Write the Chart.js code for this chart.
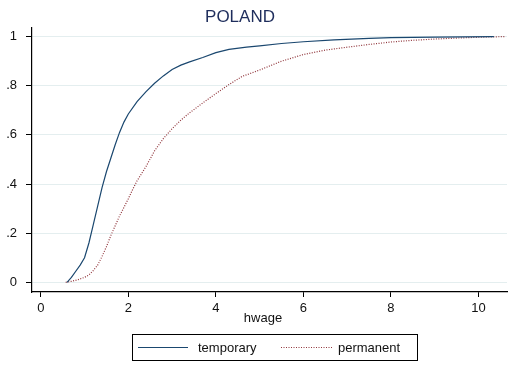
<!DOCTYPE html>
<html>
<head>
<meta charset="utf-8">
<script src="https://cdn.jsdelivr.net/npm/chart.js@4/dist/chart.umd.min.js"></script>
<style>
  body { margin: 0; background: #fff; }
  #wrap { width: 509px; height: 365px; }
</style>
</head>
<body>
<div id="wrap"><canvas id="graficaCdf" width="509" height="365"></canvas></div>
<script>
// valores (funcion de distribucion acumulada de hwage)
const titulo = "POLAND";
const etiquetaX = "hwage";
const ticksX = [0, 2, 4, 6, 8, 10];
const ticksY = [0, 0.2, 0.4, 0.6, 0.8, 1];

const temporaryX = [0.60, 0.70, 0.80, 0.90, 1.00, 1.10, 1.20, 1.30, 1.40, 1.50, 1.60, 1.70, 1.80, 1.90, 2.00,
    2.20, 2.40, 2.60, 2.80, 3.00, 3.20, 3.40, 3.70, 4.00, 4.30, 4.70, 5.00, 5.50, 6.00, 6.70, 7.50, 8.00, 9.00, 10.35];
const temporaryY = [0, 0.02, 0.045, 0.07, 0.10, 0.16, 0.235, 0.31, 0.385, 0.45, 0.505, 0.56, 0.61, 0.652, 0.685,
    0.735, 0.775, 0.81, 0.84, 0.866, 0.884, 0.897, 0.915, 0.935, 0.948, 0.957, 0.962, 0.972, 0.979, 0.987, 0.993, 0.996, 0.998, 1.0];

const permanentX = [0.57, 0.70, 0.84, 1.00, 1.10, 1.20, 1.30, 1.40, 1.50, 1.60, 1.70, 1.80, 1.90, 2.00, 2.10, 2.20,
    2.40, 2.60, 2.80, 3.00, 3.20, 3.40, 3.70, 4.00, 4.30, 4.60, 5.00, 5.50, 6.00, 6.50, 7.00, 7.50, 8.00, 8.50, 9.00, 9.50, 10.10, 10.60];
const permanentY = [0, 0.004, 0.01, 0.02, 0.03, 0.048, 0.07, 0.105, 0.145, 0.19, 0.23, 0.27, 0.305, 0.34, 0.378, 0.413,
    0.47, 0.535, 0.585, 0.625, 0.66, 0.69, 0.73, 0.768, 0.805, 0.838, 0.864, 0.90, 0.927, 0.945, 0.957, 0.968, 0.978, 0.985, 0.99, 0.994, 0.998, 1.0];

const FUENTE = "'Liberation Sans', Arial, sans-serif";

function aPuntos(xs, ys) {
    return xs.map((x, i) => ({ x: x, y: ys[i] }));
}

function formatoY(v) {
    if (v === 0) return "0";
    if (v === 1) return "1";
    return String(Math.round(v * 10) / 10).replace(/^0/, "");
}

// titulo, etiqueta del eje x y leyenda con marco, al estilo Stata
const decoracion = {
    id: "decoracion",
    afterDraw(chart) {
        const ctx = chart.ctx;
        ctx.save();
        ctx.fillStyle = "#1e2d5c";
        ctx.font = "17px " + FUENTE;
        ctx.textAlign = "center";
        ctx.textBaseline = "middle";
        ctx.fillText(titulo, 240, 17);

        ctx.fillStyle = "#111";
        ctx.font = "13px " + FUENTE;
        ctx.fillText(etiquetaX, 263, 318);

        // leyenda
        ctx.strokeStyle = "#000";
        ctx.lineWidth = 1;
        ctx.strokeRect(132.5, 334.5, 285, 26);
        const posiciones = [[138, 188, 198], [281, 332, 338]];
        chart.data.datasets.forEach((ds, i) => {
            const p = posiciones[i];
            ctx.beginPath();
            ctx.strokeStyle = ds.borderColor;
            ctx.lineWidth = ds.borderWidth;
            ctx.setLineDash(ds.borderDash || []);
            ctx.moveTo(p[0], 347.5);
            ctx.lineTo(p[1], 347.5);
            ctx.stroke();
            ctx.setLineDash([]);
            ctx.fillStyle = "#111";
            ctx.textAlign = "left";
            ctx.fillText(ds.label, p[2], 348);
        });
        ctx.restore();
    }
};

const ctx = document.getElementById("graficaCdf").getContext("2d");

new Chart(ctx, {
    type: "scatter",
    data: {
        datasets: [
            {
                label: "temporary",
                data: aPuntos(temporaryX, temporaryY),
                showLine: true,
                borderColor: "#1a476f",
                borderWidth: 1.2,
                pointRadius: 0,
                tension: 0,
            },
            {
                label: "permanent",
                data: aPuntos(permanentX, permanentY),
                showLine: true,
                borderColor: "#90353b",
                borderWidth: 1.2,
                borderDash: [1, 1.5],
                pointRadius: 0,
                tension: 0,
            },
        ],
    },
    options: {
        responsive: false,
        animation: false,
        layout: { padding: { left: 0, right: 2, top: 28, bottom: 0 } },
        plugins: {
            legend: { display: false },
            title: { display: false },
            tooltip: { enabled: false },
        },
        scales: {
            x: {
                type: "linear",
                min: -0.2,
                max: 10.65,
                afterBuildTicks: (s) => { s.ticks = ticksX.map(v => ({ value: v })); },
                afterFit: (s) => { s.height = 73; },
                grid: { drawOnChartArea: false, tickColor: "#000", tickLength: 5 },
                border: { display: true, color: "#000", width: 1.2 },
                ticks: { color: "#111", font: { family: FUENTE, size: 13 }, padding: 4, maxRotation: 0 },
            },
            y: {
                type: "linear",
                min: -0.0395,
                max: 1.035,
                afterBuildTicks: (s) => { s.ticks = ticksY.map(v => ({ value: v })); },
                afterFit: (s) => { s.width = 32; },
                grid: { color: "#e4eeef", tickColor: "#000", tickLength: 6 },
                border: { display: true, color: "#000", width: 1.2 },
                ticks: { color: "#111", font: { family: FUENTE, size: 13 }, padding: 9, callback: formatoY },
            },
        },
    },
    plugins: [decoracion],
});
</script>
</body>
</html>
